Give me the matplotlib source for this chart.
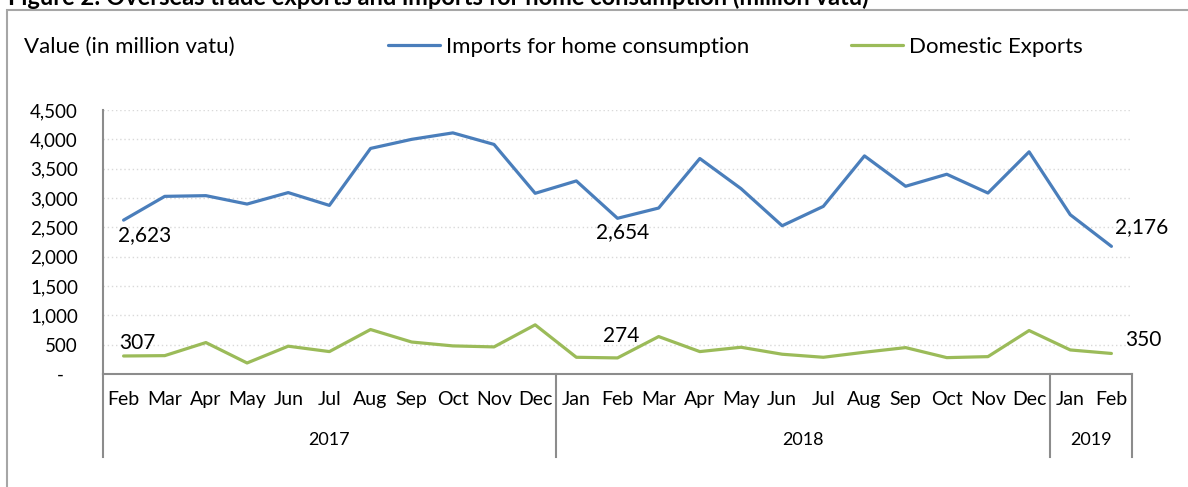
import numpy as np
import matplotlib
matplotlib.use("Agg")
import matplotlib.pyplot as plt
import matplotlib.transforms as mtrans
from matplotlib.patches import Rectangle

plt.rcParams['font.family'] = ['Lato', 'DejaVu Sans']

# data
months = ['Feb', 'Mar', 'Apr', 'May', 'Jun', 'Jul', 'Aug', 'Sep', 'Oct', 'Nov', 'Dec',
          'Jan', 'Feb', 'Mar', 'Apr', 'May', 'Jun', 'Jul', 'Aug', 'Sep', 'Oct', 'Nov', 'Dec',
          'Jan', 'Feb']
years = ['2017', '2018', '2019']
year_spans = [(0, 10), (11, 22), (23, 24)]
imports = [2623, 3028, 3040, 2897, 3092, 2874, 3845, 4000, 4110, 3913, 3080,
           3291, 2654, 2829, 3673, 3160, 2527, 2857, 3718, 3200, 3405, 3085, 3787,
           2715, 2176]
exports = [307, 313, 536, 188, 474, 382, 758, 545, 479, 462, 838,
           285, 274, 638, 382, 456, 337, 285, 371, 450, 279, 296, 741,
           410, 350]
yticks = [0, 500, 1000, 1500, 2000, 2500, 3000, 3500, 4000, 4500]
ytick_labels = ['-   ', '500', '1,000', '1,500', '2,000', '2,500', '3,000', '3,500', '4,000', '4,500']
labelled = [0, 12, 24]

W, H = 1188, 487
fig = plt.figure(figsize=(W / 100, H / 100), dpi=100)
ax = fig.add_axes([103 / W, 1 - 374 / H, (1132 - 103) / W, (374 - 110) / H])

blue = '#4a7ebb'
green = '#9bbb59'
grey = '#8c8c8c'

x = np.arange(len(months))
l1, = ax.plot(x, imports, color=blue, lw=2.3, solid_capstyle='round', solid_joinstyle='round',
              label='Imports for home consumption')
l2, = ax.plot(x, exports, color=green, lw=2.3, solid_capstyle='round', solid_joinstyle='round',
              label='Domestic Exports')

ax.set_xlim(-0.5, len(months) - 0.5)
ax.set_ylim(0, 4500)
ax.set_yticks(yticks)
ax.set_yticklabels(ytick_labels)
ax.set_xticks(x)
ax.set_xticklabels(months)
ax.tick_params(axis='y', length=0, pad=18, labelsize=13.5)
ax.tick_params(axis='x', length=0, pad=12, labelsize=14)
ax.grid(axis='y', color='#d9d9d9', linestyle=(0, (1, 2)), lw=1)
ax.set_axisbelow(True)
for s in ['top', 'right']:
    ax.spines[s].set_visible(False)
for s in ['left', 'bottom']:
    ax.spines[s].set_color(grey)
    ax.spines[s].set_linewidth(1.5)

# data labels
offs_imp = {0: (15, -11), 12: (4, -10), 24: (22, 14)}
offs_exp = {0: (10, 9), 12: (3, 16), 24: (23, 10)}
for i in labelled:
    ax.annotate(f'{imports[i]:,}', (x[i], imports[i]), xytext=offs_imp[i], textcoords='offset points',
                ha='center', va='center', fontsize=15)
    ax.annotate(f'{exports[i]:,}', (x[i], exports[i]), xytext=offs_exp[i], textcoords='offset points',
                ha='center', va='center', fontsize=15)

# year level of the category axis
trans = mtrans.blended_transform_factory(ax.transData, ax.transAxes)
ax_h = 374 - 110
sep_bottom = -(457 - 374) / ax_h
seps = [-0.5] + [b + 0.5 for (a, b) in year_spans]
for sx in seps:
    ax.plot([sx, sx], [0, sep_bottom], transform=trans, color=grey, lw=1.5, clip_on=False)
for yr, (a, b) in zip(years, year_spans):
    ax.text((a + b) / 2, -(440 - 374) / ax_h, yr, transform=trans, ha='center', va='center',
            fontsize=13)

# header row
fig.text(24 / W, 1 - 47 / H, 'Value (in million vatu)', ha='left', va='center', fontsize=16)
fig.legend(handles=[l1, l2], loc='center left', bbox_to_anchor=(388 / W, 1 - 47 / H),
           ncol=2, frameon=False, fontsize=16, handlelength=2.35, handletextpad=0.25,
           columnspacing=4.6, borderpad=0, borderaxespad=0)

# chart border and cut-off figure title
fig.patches.append(Rectangle((7 / W, -0.1), 1.2, 1 - 10 / H + 0.1, transform=fig.transFigure,
                             fill=False, edgecolor='#a6a6a6', lw=1.5))
fig.text(8 / W, 1 - 5 / H, 'Figure 2: Overseas trade exports and imports for home consumption (million vatu)',
         ha='left', va='baseline', fontsize=17, fontweight='bold')

fig.savefig('out.png', dpi=100)
